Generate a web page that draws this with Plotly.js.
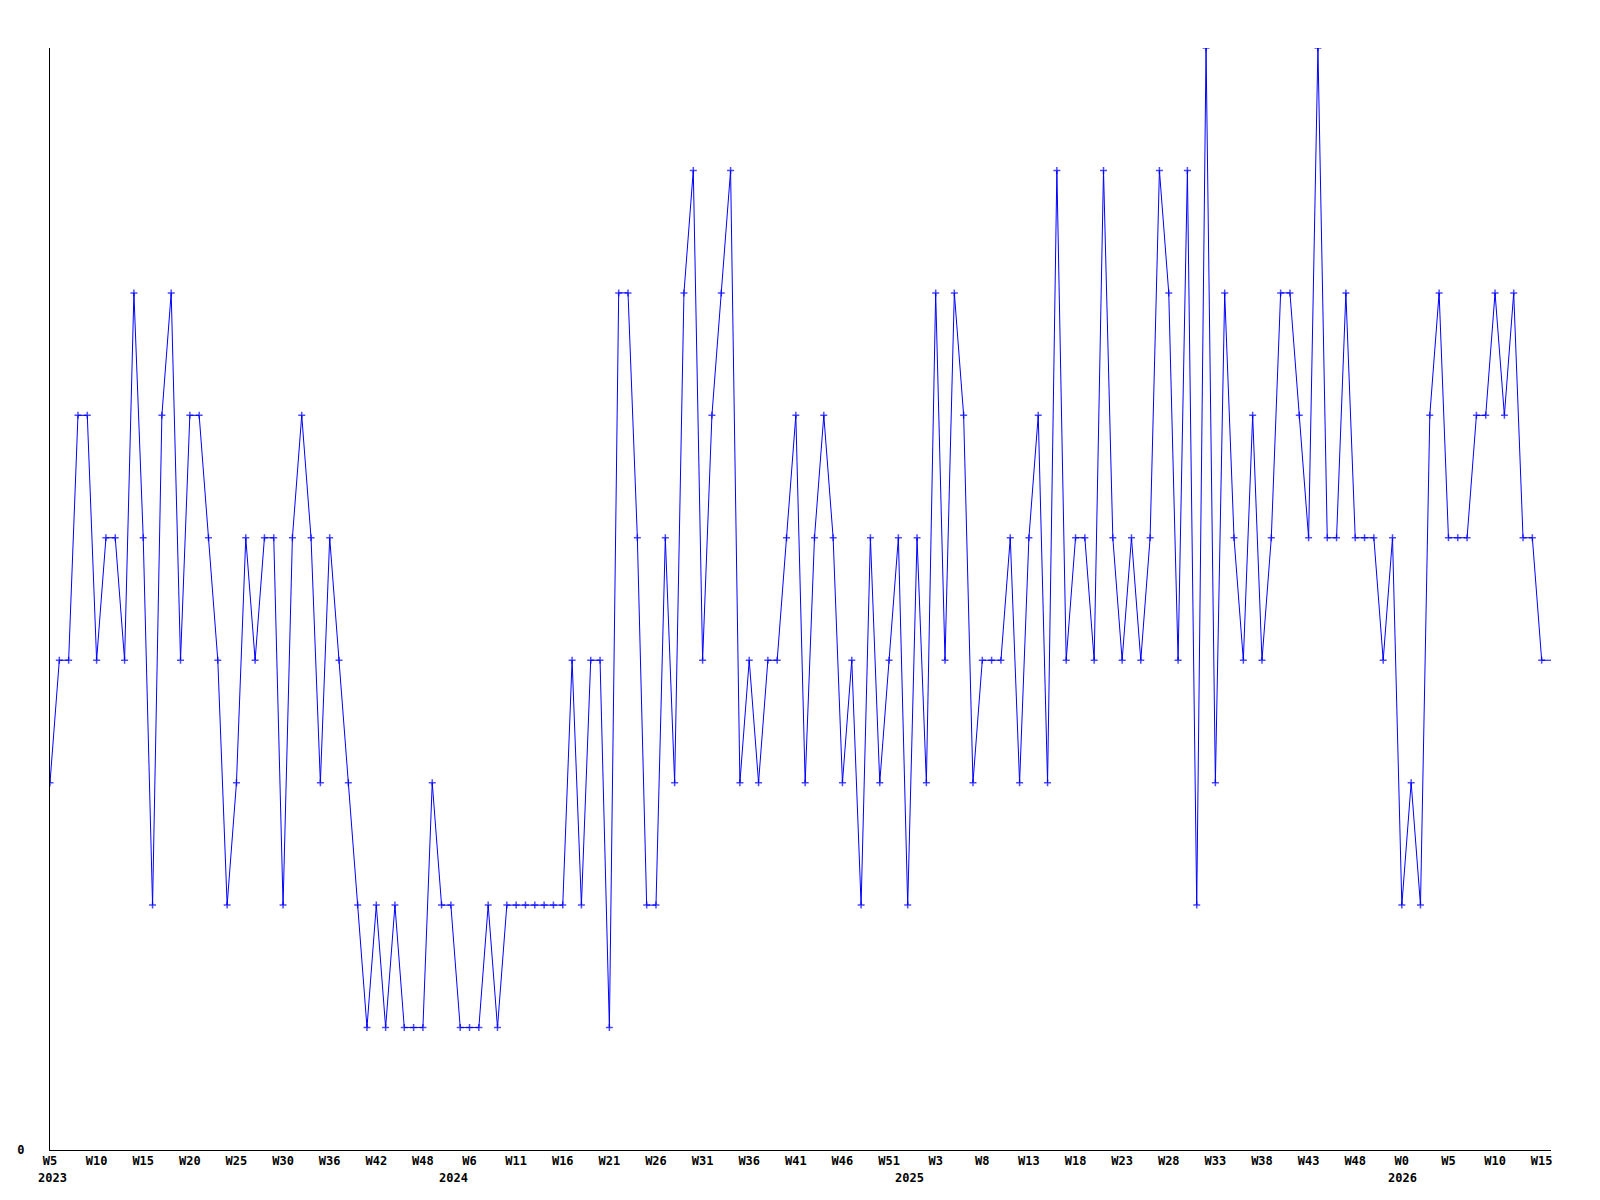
<!DOCTYPE html>
<html>
<head>
<meta charset="utf-8">
<script src="https://cdn.plot.ly/plotly-3.0.1.min.js"></script>
<style>
  html, body { margin: 0; padding: 0; background: #ffffff; }
  #chart { width: 1600px; height: 1200px; }
</style>
</head>
<body>
<div id="chart"></div>
<script>
// Weekly values, 2023 W5 onward (one value per week)
const values2023 = [3,4,4,6,6,4,5,5,4,7, 5,2,6,7,4,6,6,5,4,2, 3,5,4,5,5,2,5,6,5,3,
                    5,4,3,2,1,2,1,2,1,1, 1,3,2,2];
const values2024 = [1,1,1,2,1,2, 2,2,2,2,2,2,4,2,4,4, 1,7,7,5,2,2,5,3,7,8,
                    4,6,7,8,3,4,3,4,4,5, 6,3,5,6,5,3,4,2,5,3, 4,5,2];
const values2025 = [5,3,7,4,7,6,3, 4,4,4,5,3,5,6,3,8,4, 5,5,4,8,5,4,5,4,5,8,
                    7,4,8,2,9,3,7,5,4,6, 4,5,7,7,6,5,9,5,5,7, 5,5,5,4,5];
const values2026 = [2,3,2,6,7, 5,5,5,6,6,7,6,7,5,5, 4,4];

// X tick labels (every 5th week slot)
const weekLabels = ['W5','W10','W15','W20','W25','W30','W36','W42','W48',
                    'W6','W11','W16','W21','W26','W31','W36','W41','W46','W51',
                    'W3','W8','W13','W18','W23','W28','W33','W38','W43','W48',
                    'W0','W5','W10','W15'];
const yearLabels = ['2023','2024','2025','2026'];
const yearAtSlot = [0.3, 43.3, 92.2, 145.1];

const values = [].concat(values2023, values2024, values2025, values2026);
const xs = values.map((_, i) => i);
const lastIdx = values.length - 1;
const markerSizes = values.map((_, i) => (i === lastIdx ? 0 : 5));
const tickvals = weekLabels.map((_, i) => i * 5);

const font = { family: 'DejaVu Sans Mono, monospace', size: 12, color: '#000000' };

const trace = {
  x: xs,
  y: values,
  type: 'scatter',
  mode: 'lines+markers',
  line: { color: '#0000ff', width: 1 },
  marker: {
    symbol: 'cross-thin',
    size: markerSizes,
    color: '#0000ff',
    line: { color: '#0000ff', width: 1.5 }
  },
  hoverinfo: 'x+y'
};

const annotations = yearLabels.map((t, i) => ({
  text: '<b>' + t + '</b>',
  x: yearAtSlot[i],
  xref: 'x',
  y: 0,
  yref: 'paper',
  yanchor: 'top',
  xanchor: 'center',
  yshift: -19,
  showarrow: false,
  font: font
}));

const layout = {
  width: 1600,
  height: 1200,
  paper_bgcolor: '#ffffff',
  plot_bgcolor: '#ffffff',
  margin: { l: 50, r: 49, t: 48, b: 50, pad: 0 },
  showlegend: false,
  xaxis: {
    range: [0, lastIdx],
    tickmode: 'array',
    tickvals: tickvals,
    ticktext: weekLabels.map(w => '<b>' + w + '</b>'),
    ticks: '',
    showgrid: false,
    zeroline: false,
    showline: true,
    linecolor: '#000000',
    linewidth: 1,
    tickfont: font,
    ticklabelstandoff: 0,
    tickangle: 0
  },
  yaxis: {
    range: [0, 9],
    tickmode: 'array',
    tickvals: [0],
    ticktext: ['<b>0</b>'],
    ticks: '',
    showgrid: false,
    zeroline: false,
    showline: true,
    linecolor: '#000000',
    linewidth: 1,
    tickfont: font,
    ticklabelstandoff: 22
  },
  annotations: annotations
};

Plotly.newPlot('chart', [trace], layout, { displayModeBar: false, staticPlot: true });
</script>
</body>
</html>
